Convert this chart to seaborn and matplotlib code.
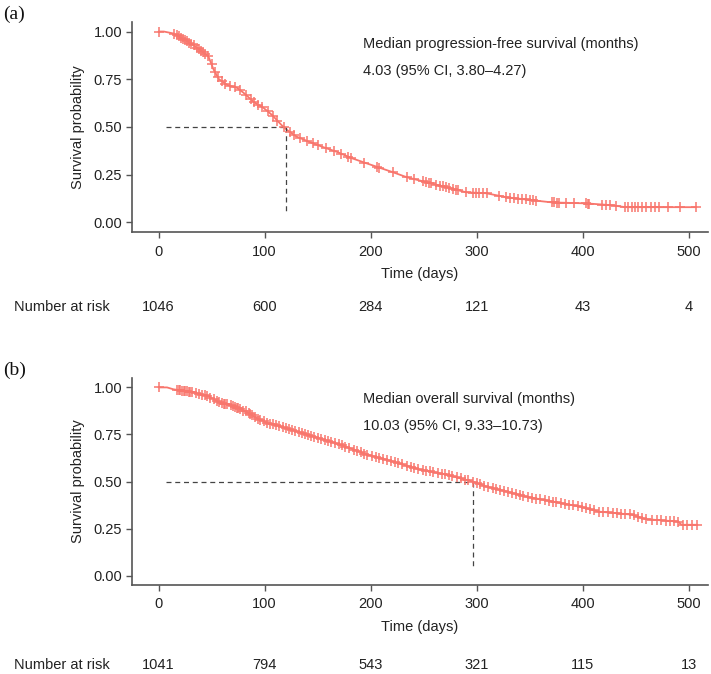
import numpy as np
import pandas as pd
import matplotlib
matplotlib.use('Agg')
import matplotlib.pyplot as plt
import matplotlib.transforms as mtransforms
import seaborn as sns

sns.set_theme(style='ticks')
plt.rcParams['font.family'] = ['Liberation Sans', 'DejaVu Sans']

# ---- data ----
# (a) progression-free survival
pfs_time = [0, 5, 14, 27, 39, 47, 52, 57, 65, 74, 80, 90, 99, 107, 116, 121, 130,
            143, 155, 168, 183, 196, 221, 234, 253, 271, 290, 309, 328, 353, 371,
            403, 428, 440, 507]
pfs_surv = [1.0, 1.0, 0.99, 0.95, 0.905, 0.87, 0.80, 0.75, 0.72, 0.705, 0.68, 0.63,
            0.60, 0.563, 0.51, 0.485, 0.45, 0.42, 0.395, 0.37, 0.335, 0.31, 0.263,
            0.237, 0.21, 0.185, 0.158, 0.153, 0.132, 0.116, 0.105, 0.10, 0.09, 0.08,
            0.08]
pfs_censor = [0, 15, 17, 19, 21, 23, 25, 27, 29, 31, 33, 36, 38, 40, 42, 44, 47, 50,
              53, 56, 60, 63, 67, 72, 77, 82, 87, 90, 94, 98, 103, 108, 112, 118,
              124, 128, 133, 140, 146, 150, 158, 165, 172, 179, 181, 194, 206, 208,
              221, 234, 241, 249, 252, 255, 257, 262, 265, 268, 271, 274, 278, 280,
              282, 290, 296, 299, 302, 306, 310, 321, 328, 331, 335, 339, 343, 346,
              350, 353, 356, 371, 373, 376, 378, 384, 392, 403, 405, 406, 418, 422,
              426, 431, 440, 443, 446, 449, 452, 456, 460, 464, 468, 472, 480, 492,
              507]
pfs_median = 120
pfs_risk = [1046, 600, 284, 121, 43, 4]

# (b) overall survival
os_time = [0, 8, 14, 33, 46, 58, 71, 84, 93, 102, 118, 134, 149, 165, 184, 196, 221,
           246, 271, 296, 309, 328, 346, 371, 397, 415, 446, 459, 490, 493, 508]
os_surv = [1.0, 1.0, 0.99, 0.973, 0.955, 0.92, 0.90, 0.867, 0.835, 0.813, 0.787,
           0.76, 0.734, 0.707, 0.67, 0.644, 0.606, 0.564, 0.537, 0.50, 0.473, 0.447,
           0.42, 0.394, 0.367, 0.34, 0.324, 0.30, 0.287, 0.27, 0.27]
os_censor = [0, 17, 19, 20, 22, 24, 25, 27, 29, 30, 32, 35, 38, 41, 44, 46, 49, 52,
             55, 57, 60, 62, 63, 65, 68, 70, 72, 74, 75, 77, 80, 82, 85, 86, 88, 91,
             94, 96, 99, 102, 105, 108, 111, 114, 117, 120, 123, 126, 129, 132, 135,
             138, 141, 144, 147, 150, 153, 157, 160, 163, 166, 170, 173, 176, 180,
             184, 187, 191, 194, 197, 201, 205, 208, 212, 215, 219, 223, 226, 230,
             234, 238, 241, 245, 249, 252, 256, 259, 263, 267, 270, 274, 277, 281,
             285, 289, 292, 296, 300, 303, 307, 311, 315, 318, 322, 326, 329, 333,
             337, 341, 344, 348, 352, 356, 360, 364, 368, 372, 375, 379, 383, 387,
             391, 395, 399, 403, 407, 411, 415, 419, 424, 428, 432, 436, 440, 444,
             448, 452, 456, 460, 465, 470, 474, 478, 482, 486, 490, 494, 498, 503,
             508]
os_median = 296
os_risk = [1041, 794, 543, 321, 115, 13]

risk_times = [0, 100, 200, 300, 400, 500]

RED = '#F8766D'
GREY = '#444444'
TXT = '#222222'


def km_panel(fig, rect, t, s, cens, median, risk, tag, title, ci_text, risk_y):
    ax = fig.add_axes(rect)
    curve = pd.DataFrame({'time': t, 'surv': s})
    sns.lineplot(data=curve, x='time', y='surv', ax=ax, color=RED, linewidth=1.3,
                 estimator=None, sort=False)
    marks = pd.DataFrame({'time': cens, 'surv': np.interp(cens, t, s)})
    sns.scatterplot(data=marks, x='time', y='surv', ax=ax, marker='+', color=RED,
                    s=55, linewidth=1.1, zorder=3)
    # median lines
    ax.plot([7, median], [0.5, 0.5], ls=(0, (4, 3)), color=GREY, lw=0.9)
    ax.plot([median, median], [0.5, 0.045], ls=(0, (4, 3)), color=GREY, lw=0.9)

    ax.set_xlim(-25, 518)
    ax.set_ylim(-0.05, 1.05)
    ax.set_xticks(risk_times)
    ax.set_yticks([0, 0.25, 0.5, 0.75, 1.0])
    ax.set_yticklabels(['0.00', '0.25', '0.50', '0.75', '1.00'])
    ax.set_xlabel('Time (days)', fontsize=10.5, color=TXT, labelpad=6)
    ax.set_ylabel('Survival probability', fontsize=10.5, color=TXT, labelpad=6)
    ax.tick_params(axis='both', labelsize=10.5, colors='#555555', labelcolor=TXT,
                   length=4, width=1, pad=3)
    ax.tick_params(axis='x', pad=5)
    sns.despine(ax=ax)
    for sp in ['left', 'bottom']:
        ax.spines[sp].set_color('#555555')
        ax.spines[sp].set_linewidth(1.2)

    ax.text(193, 0.937, title, fontsize=10.5, color=TXT, va='center')
    ax.text(193, 0.795, ci_text, fontsize=10.5, color=TXT, va='center')

    # number at risk row
    trans = mtransforms.blended_transform_factory(ax.transData, fig.transFigure)
    for x, n in zip(risk_times, risk):
        ax.text(x, risk_y, str(n), transform=trans, ha='center', va='center',
                fontsize=10.5, color=TXT)
    fig.text(14 / 711, risk_y, 'Number at risk', ha='left', va='center',
             fontsize=10.5, color=TXT)
    fig.text(3 / 711, rect[1] + rect[3] + 0.012, tag, ha='left', va='center',
             fontsize=14, family=['Liberation Serif', 'DejaVu Serif'], color='#111111')
    return ax


fig = plt.figure(figsize=(7.11, 6.74), dpi=100)
km_panel(fig, [132 / 711, 1 - 232 / 674, 576 / 711, 210 / 674],
         pfs_time, pfs_surv, pfs_censor, pfs_median, pfs_risk, '(a)',
         'Median progression-free survival (months)',
         '4.03 (95% CI, 3.80\u20134.27)', 1 - 307 / 674)
km_panel(fig, [132 / 711, 1 - 585 / 674, 576 / 711, 207 / 674],
         os_time, os_surv, os_censor, os_median, os_risk, '(b)',
         'Median overall survival (months)',
         '10.03 (95% CI, 9.33\u201310.73)', 1 - 665 / 674)

fig.savefig('out.png', dpi=100, facecolor='white')
